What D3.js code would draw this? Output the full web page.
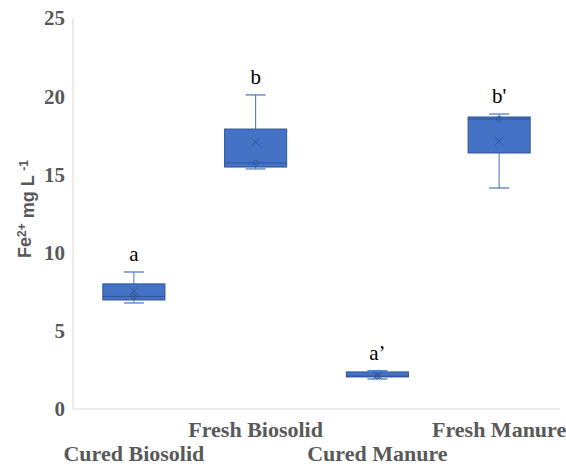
<!DOCTYPE html>
<html lang="en">
<head>
<meta charset="UTF-8">
<title>Fe2+ box plot</title>
<script src="https://cdn.jsdelivr.net/npm/d3@7"></script>
<style>
    body { margin: 0; background: #fff; }
    .tick-label { font-family: "Liberation Serif", "Times New Roman", serif; font-weight: bold; fill: #595959; }
</style>
</head>
<body>
<div id="chart"></div>
<script>
    // ---- data ----
    const categories = ["Cured Biosolid", "Fresh Biosolid", "Cured Manure", "Fresh Manure"];
    const whiskerLow  = [6.78, 15.35, 1.92, 14.13];
    const q1          = [6.97, 15.47, 2.05, 16.37];
    const medians     = [7.2, 15.73, 2.1, 18.54];
    const q3          = [8.0, 17.9, 2.37, 18.67];
    const whiskerHigh = [8.76, 20.08, 2.45, 18.86];
    const means       = [7.55, 17.07, 2.17, 17.13];
    const letters     = ["a", "b", "a\u2019", "b'"];
    const yTicks      = [0, 5, 10, 15, 20, 25];

    const W = 566, H = 466;
    const margin = {left: 73, right: 6, top: 18, bottom: 57};

    const svg = d3.select("#chart").append("svg")
        .attr("width", W).attr("height", H);

    const x = d3.scaleBand()
        .domain(categories)
        .range([margin.left, W - margin.right])
        .paddingInner(0.49).paddingOuter(0.245);

    const y = d3.scaleLinear()
        .domain([0, 25])
        .range([H - margin.bottom, margin.top]);

    // axis lines
    svg.append("line")
        .attr("x1", margin.left).attr("x2", margin.left)
        .attr("y1", y(25)).attr("y2", y(0))
        .attr("stroke", "#d9d9d9").attr("stroke-width", 1);
    svg.append("line")
        .attr("x1", margin.left).attr("x2", W - margin.right)
        .attr("y1", y(0)).attr("y2", y(0))
        .attr("stroke", "#d9d9d9").attr("stroke-width", 1);

    // y tick labels
    svg.selectAll(".ytick")
        .data(yTicks)
        .enter().append("text")
        .attr("class", "tick-label")
        .attr("x", margin.left - 8)
        .attr("y", d => y(d))
        .attr("dy", "0.35em")
        .attr("text-anchor", "end")
        .style("font-size", "21px")
        .text(d => d);

    // y axis title
    const title = svg.append("text")
        .attr("transform", "translate(31,209) rotate(-90)")
        .attr("text-anchor", "middle")
        .style("font-family", "'Liberation Sans', Arial, sans-serif")
        .style("font-weight", "bold")
        .style("font-size", "18px")
        .attr("fill", "#595959");
    title.append("tspan").text("Fe");
    title.append("tspan").attr("dy", "-0.45em").style("font-size", "12px").text("2+");
    title.append("tspan").attr("dy", "0.45em").text(" mg L ");
    title.append("tspan").attr("dy", "-0.45em").style("font-size", "12px").text("-1");

    // x labels, staggered on two rows
    svg.selectAll(".xlab")
        .data(categories)
        .enter().append("text")
        .attr("class", "tick-label")
        .attr("x", d => x(d) + x.bandwidth() / 2)
        .attr("y", (d, i) => i % 2 === 0 ? 461 : 437)
        .attr("text-anchor", "middle")
        .style("font-size", "22px")
        .text(d => d);

    const fill = "#4472C4", line = "#4472C4", dark = "#2F5597";
    const bw = x.bandwidth();

    const g = svg.selectAll(".box")
        .data(categories)
        .enter().append("g");

    // whisker stems
    g.append("line")
        .attr("x1", d => x(d) + bw / 2).attr("x2", d => x(d) + bw / 2)
        .attr("y1", (d, i) => y(whiskerHigh[i])).attr("y2", (d, i) => y(q3[i]))
        .attr("stroke", line).attr("stroke-width", 1);
    g.append("line")
        .attr("x1", d => x(d) + bw / 2).attr("x2", d => x(d) + bw / 2)
        .attr("y1", (d, i) => y(whiskerLow[i])).attr("y2", (d, i) => y(q1[i]))
        .attr("stroke", line).attr("stroke-width", 1);
    // whisker caps
    [whiskerHigh, whiskerLow].forEach(arr => {
        g.append("line")
            .attr("x1", d => x(d) + bw / 2 - 10).attr("x2", d => x(d) + bw / 2 + 10)
            .attr("y1", (d, i) => y(arr[i])).attr("y2", (d, i) => y(arr[i]))
            .attr("stroke", line).attr("stroke-width", 1.2);
    });

    // boxes
    g.append("rect")
        .attr("x", d => x(d))
        .attr("width", bw)
        .attr("y", (d, i) => y(q3[i]))
        .attr("height", (d, i) => y(q1[i]) - y(q3[i]))
        .attr("fill", fill)
        .attr("stroke", dark).attr("stroke-width", 1);

    // median
    g.append("line")
        .attr("x1", d => x(d)).attr("x2", d => x(d) + bw)
        .attr("y1", (d, i) => y(medians[i])).attr("y2", (d, i) => y(medians[i]))
        .attr("stroke", dark).attr("stroke-width", 1);
    g.append("circle")
        .attr("cx", d => x(d) + bw / 2)
        .attr("cy", (d, i) => y(medians[i]))
        .attr("r", 2.5)
        .attr("fill", "none").attr("stroke", dark).attr("stroke-width", 1);

    // mean marker
    g.append("path")
        .attr("d", (d, i) => {
            const cx = x(d) + bw / 2, cy = y(means[i]), s = 4;
            return `M${cx - s},${cy - s}L${cx + s},${cy + s}M${cx - s},${cy + s}L${cx + s},${cy - s}`;
        })
        .attr("stroke", dark).attr("stroke-width", 1).attr("fill", "none");

    // significance letters
    g.append("text")
        .attr("x", d => x(d) + bw / 2)
        .attr("y", (d, i) => y(whiskerHigh[i]) - 11)
        .attr("text-anchor", "middle")
        .style("font-family", "'Liberation Serif', 'Times New Roman', serif")
        .style("font-size", "21px")
        .attr("fill", "#000")
        .text((d, i) => letters[i]);
</script>
</body>
</html>
